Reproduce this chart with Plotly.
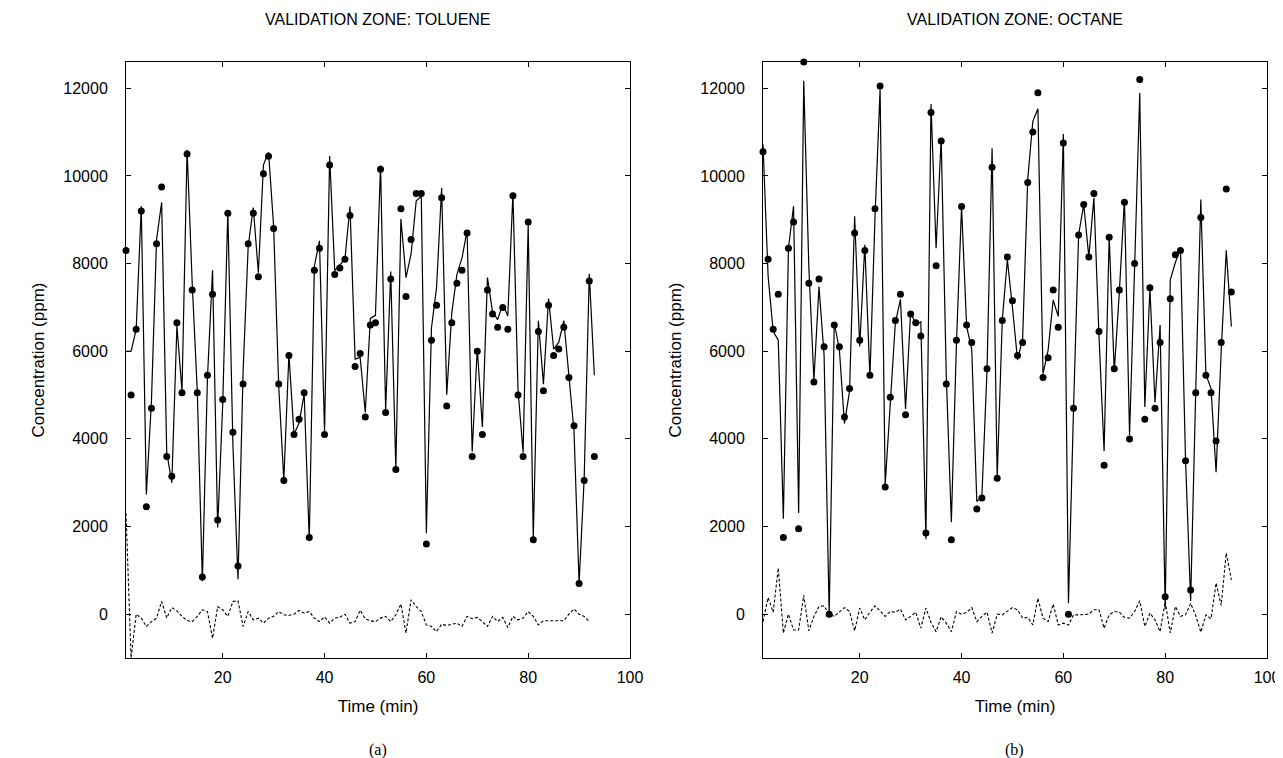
import plotly.graph_objects as go

# ---------------- data ----------------
time_min = list(range(1, 94))

toluene_measured = [8300, 5000, 6500, 9200, 2450, 4700, 8450, 9750, 3600, 3150,
                    6650, 5050, 10500, 7400, 5050, 850, 5450, 7300, 2150, 4900,
                    9150, 4150, 1100, 5250, 8450, 9150, 7700, 10050, 10450, 8800,
                    5250, 3050, 5900, 4100, 4450, 5050, 1750, 7850, 8350, 4100,
                    10250, 7750, 7900, 8100, 9100, 5650, 5950, 4500, 6600, 6650,
                    10150, 4600, 7650, 3300, 9250, 7250, 8550, 9600, 9600, 1600,
                    6250, 7050, 9500, 4750, 6650, 7550, 7850, 8700, 3600, 6000,
                    4100, 7400, 6850, 6550, 7000, 6500, 9550, 5000, 3600, 8950,
                    1700, 6450, 5100, 7050, 5900, 6050, 6550, 5400, 4300, 700,
                    3050, 7600, 3600]

toluene_predicted = [6000, 6000, 6500, 9310, 2730, 4870, 8540, 9400, 3690, 3000,
                     6575, 5100, 10600, 7570, 5100, 750, 5390, 7850, 1980, 4800,
                     9200, 3860, 795, 5530, 8390, 9280, 7790, 10255, 10540, 8850,
                     5190, 3065, 5930, 4100, 4365, 5025, 1690, 7940, 8520, 4160,
                     10455, 7840, 7970, 8100, 9305, 5820, 5860, 4605, 6750, 6820,
                     10240, 4650, 7820, 3315, 9020, 7680, 8220, 9425, 9540, 1845,
                     6530, 7450, 9730, 5010, 6880, 7755, 8130, 8750, 3705, 6075,
                     4270, 7680, 6900, 6720, 7075, 6805, 9600, 5130, 3690, 8890,
                     1750, 6695, 5250, 7200, 6050, 6200, 6700, 5400, 4180, 700,
                     3100, 7770, 5450]

toluene_error = [2300, -1000, 0, -90, -280, -170, -90, 290, -90, 150,
                 75, -50, -145, -170, -50, 100, 60, -550, 170, 100,
                 -50, 290, 305, -280, 60, -130, -90, -205, -90, -50,
                 60, -15, -30, 0, 85, 25, 60, -90, -170, -60,
                 -205, -90, -70, 0, -205, -170, 90, -105, -150, -170,
                 -90, -50, -170, -15, 230, -430, 330, 175, 60, -245,
                 -280, -400, -230, -260, -230, -205, -280, -50, -105, -75,
                 -170, -280, -50, -170, -75, -305, -50, -130, -90, 60,
                 -50, -245, -150, -150, -150, -150, -150, 0, 120, 0,
                 -50, -170]

octane_measured = [10550, 8100, 6500, 7300, 1750, 8350, 8950, 1950, 12600, 7550,
                   5300, 7650, 6100, 0, 6600, 6100, 4500, 5150, 8700, 6250,
                   8300, 5450, 9250, 12050, 2900, 4950, 6700, 7300, 4550, 6850,
                   6650, 6350, 1850, 11450, 7950, 10800, 5250, 1700, 6250, 9300,
                   6600, 6200, 2400, 2650, 5600, 10200, 3100, 6700, 8150, 7150,
                   5900, 6200, 9850, 11000, 11900, 5400, 5850, 7400, 6550, 10750,
                   0, 4700, 8650, 9350, 8150, 9600, 6450, 3400, 8600, 5600,
                   7400, 9400, 4000, 8000, 12200, 4450, 7450, 4700, 6200, 400,
                   7200, 8200, 8300, 3500, 550, 5050, 9050, 5450, 5050, 3950,
                   6200, 9700, 7350]

octane_predicted = [10720, 7720, 6455, 6250, 2180, 8350, 9310, 2310, 12170, 7930,
                    5350, 7475, 5910, 0, 6650, 6040, 4350, 5090, 9080, 6110,
                    8430, 5405, 9060, 11975, 2950, 4890, 6655, 7185, 4680, 6900,
                    6605, 6670, 1710, 11640, 8350, 10860, 5455, 2100, 6190, 9300,
                    6560, 6050, 2570, 2700, 5555, 10630, 3100, 6715, 8090, 7000,
                    5800, 6290, 9925, 11245, 11535, 5490, 6020, 7170, 6795, 10955,
                    250, 4715, 8665, 9350, 8150, 9500, 6350, 3720, 8615, 5540,
                    7355, 9475, 4090, 7940, 11895, 4730, 7425, 4830, 6600, 110,
                    7630, 8025, 8350, 3515, 300, 5080, 9460, 5465, 5155, 3240,
                    6000, 8305, 6565]

octane_error = [-170, 380, 45, 1050, -430, 0, -360, -360, 430, -380,
                -50, 175, 190, 0, -50, 60, 150, 60, -380, 140,
                -130, 45, 190, 75, -50, 60, 45, 115, -130, -50,
                45, -320, 140, -190, -400, -60, -205, -400, 60, 0,
                40, 150, -170, -50, 45, -430, 0, -15, 60, 150,
                100, -90, -75, -245, 365, -90, -170, 230, -245, -205,
                -250, -15, -15, 0, 0, 100, 100, -320, -15, 60,
                45, -75, -90, 60, 305, -280, 25, -130, -400, 290,
                -430, 175, -50, -15, 250, -30, -410, -15, -105, 710,
                200, 1395, 785]

panel_titles = ["VALIDATION ZONE: TOLUENE", "VALIDATION ZONE: OCTANE"]
panel_labels = ["(a)", "(b)"]
x_ticks = [20, 40, 60, 80, 100]
y_ticks = [0, 2000, 4000, 6000, 8000, 10000, 12000]

# ---------------- figure ----------------
W, H = 1283, 758
ML, MR, MT, MB = 118, 24, 54, 108
plot_w = W - ML - MR
panel_w = 504
gap_left = 755
left_dom = [0.0, panel_w / plot_w]
right_dom = [(gap_left - ML) / plot_w, 1.0]

FONT = "Liberation Sans, Arial, Helvetica, sans-serif"
fig = go.Figure()

panels = [
    ("x", "y", toluene_measured, toluene_predicted, toluene_error),
    ("x2", "y2", octane_measured, octane_predicted, octane_error),
]
for xa, ya, meas, pred, err in panels:
    fig.add_trace(go.Scatter(x=time_min[:len(pred)], y=pred, mode="lines",
                             line=dict(color="black", width=1.2),
                             xaxis=xa, yaxis=ya, showlegend=False, name="Predicted"))
    fig.add_trace(go.Scatter(x=time_min[:len(err)], y=err, mode="lines",
                             line=dict(color="black", width=1.1, dash="3px,2px"),
                             xaxis=xa, yaxis=ya, showlegend=False, name="Error"))
    fig.add_trace(go.Scatter(x=time_min[:len(meas)], y=meas, mode="markers",
                             marker=dict(color="black", size=7),
                             xaxis=xa, yaxis=ya, showlegend=False, name="Measured",
                             cliponaxis=False))

axis_common = dict(showline=True, linecolor="black", linewidth=1, mirror="ticks",
                   ticks="inside", ticklen=5, tickcolor="black", showgrid=False,
                   zeroline=False, tickfont=dict(family=FONT, size=16, color="black"),
                   automargin=False)

xcommon = dict(axis_common, range=[1, 100], tickvals=x_ticks,
               ticktext=[str(v) for v in x_ticks], ticklabelstandoff=5,
               title=dict(text="Time (min)", font=dict(family=FONT, size=17, color="black"),
                          standoff=14))
ycommon = dict(axis_common, range=[-1000, 12600], tickvals=y_ticks,
               ticktext=[str(v) for v in y_ticks], ticklabelstandoff=14,
               title=dict(text="Concentration (ppm)", font=dict(family=FONT, size=17, color="black"),
                          standoff=14))

fig.update_layout(
    width=W, height=H,
    margin=dict(l=ML, r=MR, t=MT, b=MB),
    paper_bgcolor="white", plot_bgcolor="white",
    xaxis=dict(xcommon, domain=left_dom, anchor="y"),
    yaxis=dict(ycommon, domain=[0, 1], anchor="x"),
    xaxis2=dict(xcommon, domain=right_dom, anchor="y2"),
    yaxis2=dict(ycommon, domain=[0, 1], anchor="x2"),
)

for i, dom in enumerate([left_dom, right_dom]):
    cx = (dom[0] + dom[1]) / 2
    fig.add_annotation(text=panel_titles[i], xref="paper", yref="paper",
                       x=cx, y=1, yshift=43, xanchor="center", yanchor="middle",
                       showarrow=False, font=dict(family=FONT, size=16, color="black"))
    fig.add_annotation(text=panel_labels[i], xref="paper", yref="paper",
                       x=cx, y=0, yshift=-92, xanchor="center", yanchor="middle",
                       showarrow=False,
                       font=dict(family="Liberation Serif, Times New Roman, serif",
                                 size=16, color="black"))

fig.write_html("out.html")
